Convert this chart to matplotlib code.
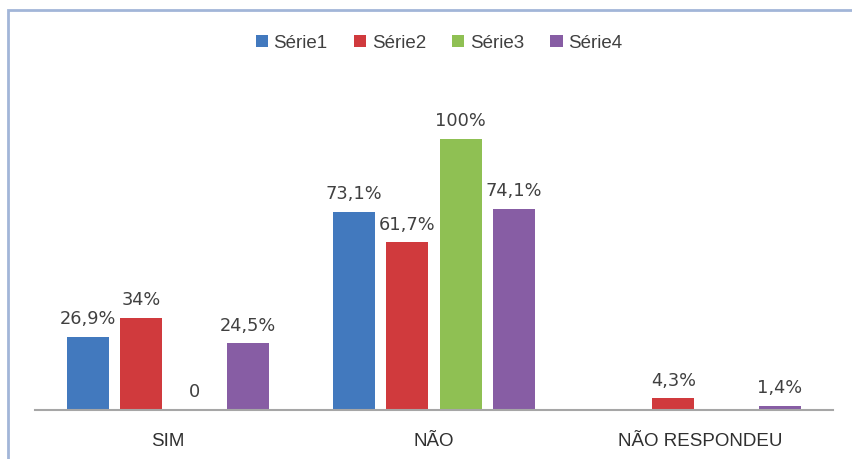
import matplotlib
matplotlib.use("Agg")
import matplotlib.pyplot as plt
from matplotlib.patches import Rectangle, Patch
import numpy as np

categories = ["SIM", "NÃO", "NÃO RESPONDEU"]
series_names = ["Série1", "Série2", "Série3", "Série4"]
serie1 = [26.9, 73.1, None]
serie2 = [34, 61.7, 4.3]
serie3 = [0, 100, None]
serie4 = [24.5, 74.1, 1.4]
series = [serie1, serie2, serie3, serie4]
colors = ["#4279BE", "#D03A3D", "#8FC053", "#875DA4"]

W, H = 852, 460
fig = plt.figure(figsize=(W / 100, H / 100), dpi=100)
fig.patch.set_facecolor("white")

# outer frame
fig.patches.append(Rectangle((8 / W, -0.1), 1.2, 1.1 - 11 / H, transform=fig.transFigure,
                             fill=False, edgecolor="#A2B6D8", linewidth=2.0, zorder=0))

ymax = 130
px_per_unit = 271.5 / 100
ax_h = ymax * px_per_unit
ax = fig.add_axes([35 / W, 49 / H, 798 / W, ax_h / H])
ax.set_xlim(-0.5, 2.5)
ax.set_ylim(0, ymax)

x = np.arange(len(categories))
pitch = 0.2
width = 0.158
for i, (vals, col) in enumerate(zip(series, colors)):
    xs = x + (i - 1.5) * pitch
    for xi, v in zip(xs, vals):
        if v is None:
            continue
        ax.bar(xi, v, width=width, color=col, edgecolor="none", zorder=2)
        lab = "0" if v == 0 else (f"{v:g}%".replace(".", ","))
        ax.annotate(lab, (xi, v), xytext=(0, 7), textcoords="offset points",
                    ha="center", va="bottom", fontsize=12.8, color="#404040",
                    family="DejaVu Sans")

for s in ["top", "right", "left"]:
    ax.spines[s].set_visible(False)
ax.spines["bottom"].set_color("#A6A6A6")
ax.spines["bottom"].set_linewidth(1.5)
ax.set_yticks([])
ax.set_xticks(x)
ax.set_xticklabels(categories, fontsize=13.5, color="#303030", family="Liberation Sans")
ax.tick_params(axis="x", length=0, pad=16)

handles = [Patch(facecolor=c, edgecolor="none") for c in colors]
leg = fig.legend(handles, series_names, loc="center", bbox_to_anchor=(439 / W, 1 - 44 / H),
                 ncol=4, frameon=False, handlelength=0.65, handleheight=0.6,
                 handletextpad=0.3, columnspacing=1.4, prop={"family": "Liberation Sans", "size": 13.5})
for t in leg.get_texts():
    t.set_color("#404040")

fig.savefig("out.png", dpi=100, facecolor="white")
